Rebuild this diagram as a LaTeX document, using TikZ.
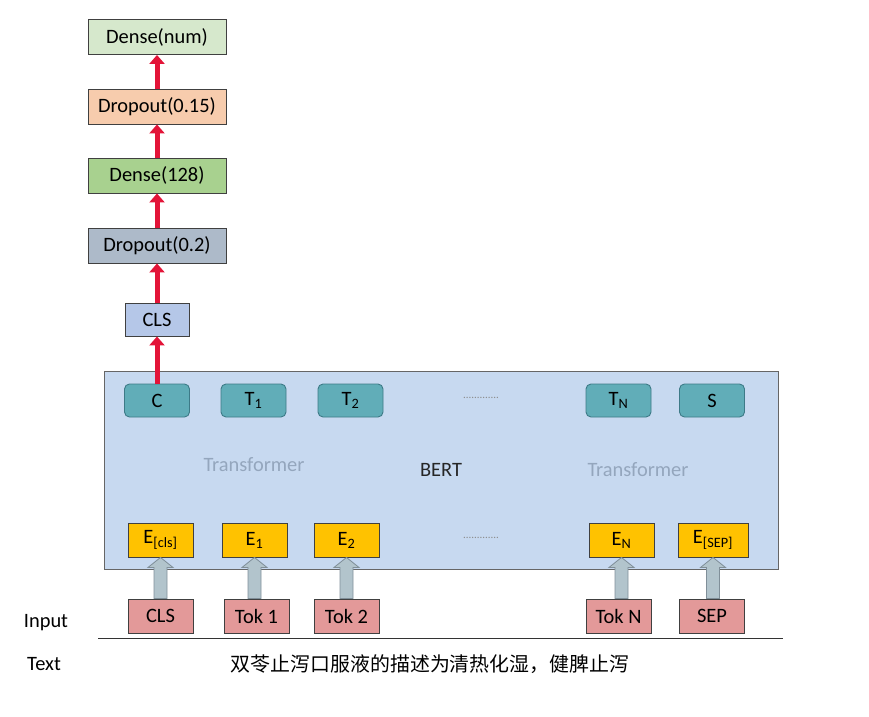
\documentclass[tikz,border=0pt]{standalone}
\usepackage{fontspec}
\setmainfont{Carlito}
\newfontfamily\cjk{Noto Sans CJK SC}
\usetikzlibrary{arrows.meta,calc}
\definecolor{pfeilrot}{rgb}{0.89,0.08,0.22}
\definecolor{dnumgruen}{rgb}{0.84,0.91,0.80}
\definecolor{pfirsich}{rgb}{0.97,0.80,0.68}
\definecolor{dgruen}{rgb}{0.66,0.82,0.56}
\definecolor{graublau}{rgb}{0.68,0.73,0.79}
\definecolor{clsblau}{rgb}{0.71,0.78,0.91}
\definecolor{bertblau}{rgb}{0.78,0.85,0.94}
\definecolor{tuerkis}{rgb}{0.38,0.68,0.72}
\definecolor{tuerkisrand}{rgb}{0.24,0.48,0.53}
\definecolor{embgelb}{rgb}{1.00,0.76,0.00}
\definecolor{tokrosa}{rgb}{0.89,0.60,0.60}
\definecolor{trafograu}{rgb}{0.58,0.65,0.74}
\definecolor{blockgrau}{rgb}{0.70,0.77,0.80}
\definecolor{blockrand}{rgb}{0.50,0.56,0.60}
\tikzset{
  schicht/.style={draw=black!75,line width=0.9bp,minimum width=138bp,minimum height=35bp,inner sep=0pt},
  tokbox/.style={draw=black!75,line width=0.9bp,minimum width=65bp,minimum height=34bp,inner sep=0pt},
  ausgabe/.style={draw=tuerkisrand,fill=tuerkis,line width=0.9bp,rounded corners=5bp,minimum width=65bp,minimum height=33bp,inner sep=0pt},
  rotpfeil/.style={line width=5bp,pfeilrot,-{Triangle[length=9bp,width=15bp]}},
  blockpfeil/.style={draw=blockrand,fill=blockgrau,line width=0.8bp},
  punkte/.style={font=\fontsize{11}{13}\selectfont,text=black!45},
  txt/.style={font=\fontsize{20.5}{24}\selectfont}
}

\begin{document}
\begin{tikzpicture}[yscale=-1,x=1bp,y=1bp,txt]
  \useasboundingbox (0,0) rectangle (869,717);

  % --- Klassifikationskopf ---
  \node[schicht,fill=dnumgruen] (dnum) at (157,37) {Dense(num)};
  \node[schicht,fill=pfirsich] (dr15) at (157,106.5) {Dropout(0.15)};
  \node[schicht,fill=dgruen] (d128) at (157,175.5) {Dense(128)};
  \node[schicht,fill=graublau] (dr02) at (157,245.5) {Dropout(0.2)};
  \node[tokbox,fill=clsblau,minimum width=64bp,minimum height=33bp] (cls) at (157,319.5) {CLS};

  % --- BERT-Block ---
  \node[draw=black!60,fill=bertblau,line width=0.9bp,minimum width=674bp,minimum height=198bp,inner sep=0pt,text=black!85] (bert) at (441,470) {BERT};
  \node[text=trafograu] (trafo1) at (254,465) {Transformer};
  \node[text=trafograu] (trafo2) at (638,470) {Transformer};

  % obere Reihe (Ausgaben)
  \node[ausgabe] (c) at (157,400.5) {C};
  \node[ausgabe] (t1) at (253.5,400.5) {T\textsubscript{1}};
  \node[ausgabe] (t2) at (350.5,400.5) {T\textsubscript{2}};
  \node[ausgabe] (tn) at (618.5,400.5) {T\textsubscript{N}};
  \node[ausgabe] (s) at (712,400.5) {S};
  \node[punkte] (punkte1) at (481,398) {.............};

  % untere Reihe (Embeddings)
  \node[tokbox,fill=embgelb] (ecls) at (160.5,540) {E\textsubscript{[cls]}};
  \node[tokbox,fill=embgelb] (e1) at (254.5,540) {E\textsubscript{1}};
  \node[tokbox,fill=embgelb] (e2) at (346.5,540) {E\textsubscript{2}};
  \node[tokbox,fill=embgelb] (en) at (621.5,540) {E\textsubscript{N}};
  \node[tokbox,fill=embgelb,minimum width=70bp] (esep) at (713,540) {E\textsubscript{[SEP]}};
  \node[punkte] (punkte2) at (481,538) {.............};

  % --- Eingabe-Token ---
  \node[tokbox,fill=tokrosa] (icls) at (160.5,616) {CLS};
  \node[tokbox,fill=tokrosa] (i1) at (256.5,616) {Tok 1};
  \node[tokbox,fill=tokrosa] (i2) at (346.5,616) {Tok 2};
  \node[tokbox,fill=tokrosa] (in) at (618.5,616) {Tok N};
  \node[tokbox,fill=tokrosa] (isep) at (712,616) {SEP};

  % graue Blockpfeile Token -> Embedding
  \foreach \a/\b in {icls/ecls,i1/e1,i2/e2,in/en,isep/esep}
    \draw[blockpfeil] ($(\a.north -| \b.south)+(-6.5,0)$) -- ($(\a.north -| \b.south)+(6.5,0)$)
      -- ($(\b.south)+(6.5,10)$) -- ($(\b.south)+(12.5,10)$) -- (\b.south)
      -- ($(\b.south)+(-12.5,10)$) -- ($(\b.south)+(-6.5,10)$) -- cycle;

  % rote Pfeile nach oben
  \foreach \a/\b in {c/cls,cls/dr02,dr02/d128,d128/dr15,dr15/dnum}
    \draw[rotpfeil] (\a.north) -- (\b.south);

  % --- Beschriftung unten ---
  \node (input) at (46,623) {Input};
  \node (text) at (44,664) {Text};
  \coordinate (linie1) at (98,638);
  \coordinate (linie2) at (783,638);
  \draw[line width=1bp,black!80] (linie1) -- (linie2);
  \node[font=\cjk\fontsize{20}{24}\selectfont] (satz) at (430,664) {双苓止泻口服液的描述为清热化湿，健脾止泻};

\end{tikzpicture}
\end{document}
